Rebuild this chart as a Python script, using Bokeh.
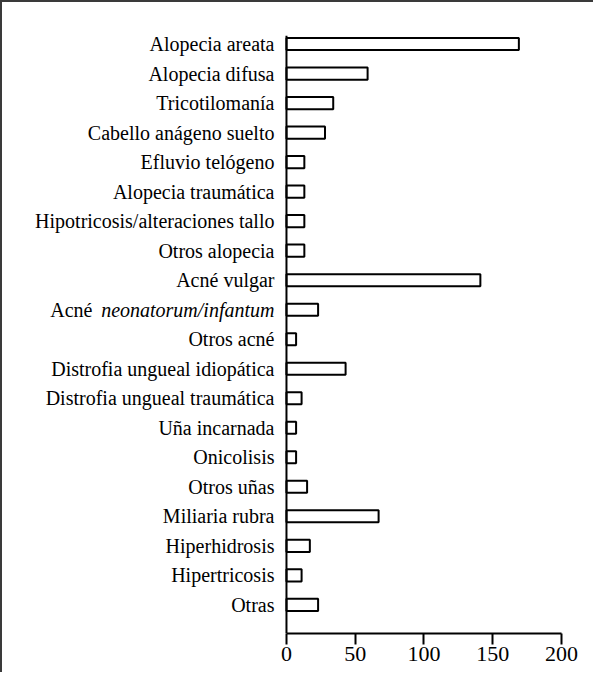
from bokeh.plotting import figure
from bokeh.models import Range1d, FixedTicker, Span
from bokeh.core.properties import value
from bokeh.embed import file_html
from bokeh.resources import INLINE

categories = [
    "Alopecia areata", "Alopecia difusa", "Tricotilomanía", "Cabello anágeno suelto",
    "Efluvio telógeno", "Alopecia traumática", "Hipotricosis/alteraciones tallo",
    "Otros alopecia", "Acné vulgar", "Acné neonatorum/infantum", "Otros acné",
    "Distrofia ungueal idiopática", "Distrofia ungueal traumática", "Uña incarnada",
    "Onicolisis", "Otros uñas", "Miliaria rubra", "Hiperhidrosis", "Hipertricosis", "Otras",
]
values = [169, 59, 34, 28, 13, 13, 13, 13, 141, 23, 7, 43, 11, 7, 7, 15, 67, 17, 11, 23]
x_ticks = [0, 50, 100, 150, 200]
italic_label = ("Acné", "neonatorum/infantum")

n = len(categories)
ypos = [n - 1 - i for i in range(n)]
italic_full = " ".join(italic_label)

FONT = "Liberation Serif"

p = figure(width=593, height=672, output_backend="svg", toolbar_location=None,
           x_range=Range1d(-206.5, 200), y_range=Range1d(-0.97, n - 1 + 0.29),
           y_axis_location=None,
           min_border_left=0, min_border_right=34, min_border_top=33, min_border_bottom=41)
p.styles = {"border-top": "2px solid #3a3a3a", "border-left": "2px solid #3a3a3a"}

p.hbar(y=ypos, right=values, left=0, height=0.41,
       fill_color="white", line_color="black", line_width=2)

# category labels as text (so the italic one can be mixed-style)
reg_y = [y for c, y in zip(categories, ypos) if c != italic_full]
reg_t = [c for c in categories if c != italic_full]
p.text(x=0, y=reg_y, text=reg_t, x_offset=-12, text_align="right", text_baseline="middle",
       text_font=value(FONT), text_font_size="20px", text_color="black")
yi = ypos[categories.index(italic_full)]
p.text(x=0, y=[yi], text=[italic_label[1]], x_offset=-12, text_align="right",
       text_baseline="middle", text_font=value(FONT), text_font_size="20px",
       text_font_style="italic", text_color="black")
p.text(x=0, y=[yi], text=[italic_label[0]], x_offset=-194, text_align="right",
       text_baseline="middle", text_font=value(FONT), text_font_size="20px",
       text_color="black")

# vertical axis line at zero
p.add_layout(Span(location=0, dimension="height", line_color="black", line_width=2))

p.grid.visible = False
p.outline_line_color = None

xa = p.xaxis[0]
xa.ticker = FixedTicker(ticks=x_ticks)
xa.bounds = (x_ticks[0], x_ticks[-1])
xa.axis_line_width = 2
xa.axis_line_color = "black"
xa.major_tick_line_width = 2
xa.major_tick_line_color = "black"
xa.major_tick_out = 11
xa.major_tick_in = 0
xa.minor_tick_line_color = None
xa.major_label_standoff = 2
xa.major_label_text_font = FONT
xa.major_label_text_font_size = "22px"
xa.major_label_text_color = "black"

open("out.html", "w").write(file_html(p, INLINE))
